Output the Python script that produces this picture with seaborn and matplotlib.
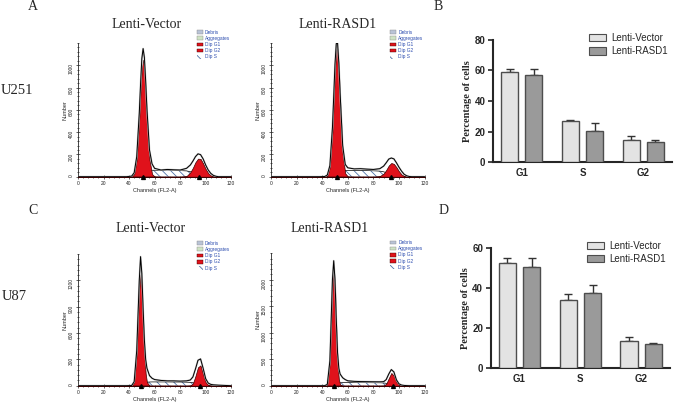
"""
Cell-cycle figure: ModFit-style DNA content histograms for U251 / U87
(Lenti-Vector vs Lenti-RASD1) and the phase-distribution bar charts.
"""

import matplotlib
matplotlib.use("Agg")  # no display in the sandbox
import matplotlib.pyplot as plt
import numpy as np
import pandas as pd
import seaborn as sns
from matplotlib.patches import Patch
from matplotlib.ticker import AutoMinorLocator

W, H = 675, 403  # output size in pixels (dpi 100)

CHANNELS = [0, 38, 42, 44, 46, 48, 49, 50, 51, 52, 53, 54, 56, 58, 60, 65, 70,
            75, 80, 85, 88, 90, 92, 94, 96, 98, 100, 102, 104, 106, 108, 110, 115, 120]

u251_vec_total = [0, 0, 5, 35, 180, 570, 830, 1060, 1150, 1070, 860, 610, 240, 115, 75, 60, 65,
                  62, 60, 75, 105, 140, 180, 205, 198, 160, 105, 60, 30, 12, 4, 0, 0, 0]
u251_vec_g1 = [0, 0, 2, 24, 154, 525, 771, 972, 1050, 972, 771, 525, 154, 24, 2, 0, 0,
               0, 0, 0, 0, 0, 0, 0, 0, 0, 0, 0, 0, 0, 0, 0, 0, 0]
u251_vec_g2 = [0, 0, 0, 0, 0, 0, 0, 0, 0, 0, 0, 0, 0, 0, 0, 0, 0,
               0, 0, 5, 40, 80, 130, 162, 160, 120, 70, 32, 12, 3, 0, 0, 0, 0]
u251_vec_s = [0, 0, 0, 5, 15, 30, 35, 40, 45, 48, 50, 52, 55, 58, 58, 58, 60,
              58, 55, 52, 45, 38, 28, 20, 12, 5, 2, 0, 0, 0, 0, 0, 0, 0]

u251_ras_total = [0, 0, 2, 15, 100, 440, 720, 1010, 1195, 1200, 1020, 750, 280, 110, 80, 70, 72,
                  68, 65, 72, 95, 125, 158, 168, 160, 125, 85, 50, 22, 8, 2, 0, 0, 0]
u251_ras_g1 = [0, 0, 0, 9, 85, 404, 680, 962, 1145, 1145, 962, 680, 202, 30, 2, 0, 0,
               0, 0, 0, 0, 0, 0, 0, 0, 0, 0, 0, 0, 0, 0, 0, 0, 0]
u251_ras_g2 = [0, 0, 0, 0, 0, 0, 0, 0, 0, 0, 0, 0, 0, 0, 0, 0, 0,
               0, 0, 5, 28, 60, 100, 123, 115, 85, 48, 20, 6, 1, 0, 0, 0, 0]
u251_ras_s = [0, 0, 0, 4, 12, 25, 30, 35, 40, 43, 46, 48, 52, 55, 55, 55, 56,
              55, 53, 50, 44, 36, 27, 18, 10, 4, 1, 0, 0, 0, 0, 0, 0, 0]

u87_vec_total = [0, 0, 2, 45, 400, 1200, 1470, 1280, 880, 520, 300, 200, 115, 85, 70, 60, 55,
                 55, 52, 55, 65, 100, 190, 290, 305, 200, 80, 30, 15, 10, 8, 6, 3, 0]
u87_vec_g1 = [0, 0, 0, 40, 365, 1105, 1270, 1105, 730, 365, 139, 40, 1, 0, 0, 0, 0,
              0, 0, 0, 0, 0, 0, 0, 0, 0, 0, 0, 0, 0, 0, 0, 0, 0]
u87_vec_g2 = [0, 0, 0, 0, 0, 0, 0, 0, 0, 0, 0, 0, 0, 0, 0, 0, 0,
              0, 0, 0, 3, 25, 110, 210, 232, 130, 40, 8, 1, 0, 0, 0, 0, 0]
u87_vec_s = [0, 0, 0, 0, 8, 20, 25, 30, 33, 36, 38, 40, 42, 43, 43, 43, 43,
             42, 42, 40, 38, 34, 26, 18, 10, 4, 1, 0, 0, 0, 0, 0, 0, 0]

u87_ras_total = [0, 0, 1, 25, 470, 2000, 2360, 2000, 1250, 620, 330, 220, 150, 115, 92, 82, 78,
                 76, 74, 73, 76, 115, 220, 305, 260, 110, 35, 12, 5, 2, 0, 0, 0, 0]
u87_ras_g1 = [0, 0, 0, 23, 435, 1880, 2260, 1880, 1085, 435, 120, 23, 0, 0, 0, 0, 0,
              0, 0, 0, 0, 0, 0, 0, 0, 0, 0, 0, 0, 0, 0, 0, 0, 0]
u87_ras_g2 = [0, 0, 0, 0, 0, 0, 0, 0, 0, 0, 0, 0, 0, 0, 0, 0, 0,
              0, 0, 0, 3, 35, 140, 240, 190, 70, 15, 2, 0, 0, 0, 0, 0, 0]
u87_ras_s = [0, 0, 0, 0, 8, 25, 32, 40, 45, 50, 53, 55, 58, 60, 60, 60, 58,
             57, 56, 55, 52, 45, 32, 20, 10, 3, 1, 0, 0, 0, 0, 0, 0, 0]

# G1 / G2 peak positions (the small triangles under the x axis)
u251_vec_peaks = [51, 95]
u251_ras_peaks = [51.5, 94]
u87_vec_peaks = [49, 95.5]
u87_ras_peaks = [49, 95]

HIST_XTICKS = [0, 20, 40, 60, 80, 100, 120]
u251_yticks = [0, 200, 400, 600, 800, 1000]
u87_vec_yticks = [0, 300, 600, 900, 1200]
u87_ras_yticks = [0, 500, 1000, 1500, 2000]
HIST_LEGEND = ["Debris", "Aggregates", "Dip G1", "Dip G2", "Dip S"]

# ---- bar chart data: percentage of cells per phase (mean, upper SD) ----
PHASES = ["G1", "S", "G2"]
GROUPS = ["Lenti-Vector", "Lenti-RASD1"]
u251_vec_mean = [58.8, 26.9, 14.4]
u251_vec_sd = [2.0, 0.4, 2.4]
u251_ras_mean = [57.3, 20.5, 12.9]
u251_ras_sd = [3.7, 5.1, 1.3]
u87_vec_mean = [52.2, 34.0, 13.6]
u87_vec_sd = [2.8, 2.8, 2.2]
u87_ras_mean = [50.5, 37.3, 11.9]
u87_ras_sd = [4.5, 4.1, 0.8]

RED = "#e0121b"
HATCH_BLUE = "#4f72a8"
BAR_COLORS = {"Lenti-Vector": "#e3e3e3", "Lenti-RASD1": "#9a9a9a"}
SERIF = ["Liberation Serif", "DejaVu Serif"]


def frame(left, top, right, bottom):
    """Pixel box -> figure-fraction rect for fig.add_axes."""
    return [left / W, 1 - bottom / H, (right - left) / W, (bottom - top) / H]


def fig_text(fig, x, y, s, **kw):
    fig.text(x / W, 1 - y / H, s, ha="center", va="center", **kw)


def draw_histogram(ax, total, g1, g2, s, peaks, ymax, yticks):
    ch = np.array(CHANNELS, dtype=float)
    ax.fill_between(ch, np.array(s), facecolor="white", edgecolor=HATCH_BLUE,
                    hatch="\\\\\\\\", linewidth=0, zorder=1)
    ax.plot(ch, s, color="black", lw=0.5, zorder=2)
    for comp in (g1, g2):
        ax.fill_between(ch, np.array(comp), facecolor=RED, edgecolor="#3a0000",
                        linewidth=0.5, zorder=3)
    sns.lineplot(x=ch, y=total, ax=ax, color="#c4c4c4", lw=1.3, zorder=4)
    sns.lineplot(x=ch, y=total, ax=ax, color="black", lw=0.7, zorder=5)
    ax.plot(peaks, [0] * len(peaks), ls="none", marker="^", ms=2.8,
            color="black", clip_on=False, zorder=6)

    ax.set_xlim(0, 120)
    ax.set_ylim(0, ymax)
    ax.set_xticks(HIST_XTICKS)
    ax.set_yticks(yticks)
    ax.xaxis.set_minor_locator(AutoMinorLocator(5))
    ax.yaxis.set_minor_locator(AutoMinorLocator(5))
    ax.tick_params(which="both", direction="inout", width=0.5, colors="#222222",
                   labelsize=3.5, pad=1.5)
    ax.tick_params(which="major", length=3.5)
    ax.tick_params(which="minor", length=2)
    ax.tick_params(axis="y", labelrotation=90)
    ax.set_xlabel("Channels (FL2-A)", fontsize=4, labelpad=1)
    ax.set_ylabel("Number", fontsize=4, labelpad=1)
    sns.despine(ax=ax)
    for side in ("left", "bottom"):
        ax.spines[side].set_linewidth(0.6)

    handles = [
        Patch(facecolor="#b9c3d6", edgecolor="#8a8a8a", linewidth=0.3),
        Patch(facecolor="#cfe3c4", edgecolor="#8a8a8a", linewidth=0.3),
        Patch(facecolor=RED, edgecolor="#3a0000", linewidth=0.3),
        Patch(facecolor=RED, edgecolor="#3a0000", linewidth=0.3),
        Patch(facecolor="white", edgecolor=HATCH_BLUE, hatch="\\\\\\\\", linewidth=0),
    ]
    ax.legend(handles, HIST_LEGEND, loc="upper left", bbox_to_anchor=(0.775, 1.10),
              frameon=False, fontsize=3.5, labelcolor="#2f4fb0", handlelength=1.3,
              handleheight=0.8, handletextpad=0.4, labelspacing=0.25,
              borderaxespad=0, borderpad=0)


def draw_bars(ax, vec_mean, vec_sd, ras_mean, ras_sd, ymax):
    df = pd.DataFrame({
        "phase": PHASES * 2,
        "group": [GROUPS[0]] * len(PHASES) + [GROUPS[1]] * len(PHASES),
        "pct":   vec_mean + ras_mean,
    })
    sns.barplot(data=df, x="phase", y="pct", hue="group", palette=BAR_COLORS,
                errorbar=None, width=0.8, gap=0.3, edgecolor="#4d4d4d",
                linewidth=1, legend=False, ax=ax, zorder=3)

    # upper-only SD bars, placed on the bars seaborn drew
    for bars, sds in zip(ax.containers, (vec_sd, ras_sd)):
        xs = [b.get_x() + b.get_width() / 2 for b in bars]
        ys = [b.get_height() for b in bars]
        ax.errorbar(xs, ys, yerr=[np.zeros(len(sds)), sds], fmt="none",
                    ecolor="#333333", elinewidth=1, capsize=3, capthick=1, zorder=2)

    ax.set_ylim(0, ymax)
    ax.set_yticks(range(0, ymax + 1, 20))
    ax.set_xlabel("")
    ax.set_ylabel("Percentage of cells", family=SERIF, fontweight="bold",
                  fontsize=7.5, labelpad=1.5)
    ax.tick_params(axis="y", length=3.5, width=1.2, labelsize=7, pad=2)
    ax.tick_params(axis="x", length=0, labelsize=7, pad=4)
    for lab in ax.get_xticklabels() + ax.get_yticklabels():
        lab.set_fontweight("bold")
    sns.despine(ax=ax)
    for side in ("left", "bottom"):
        ax.spines[side].set_linewidth(1.5)

    handles = [Patch(facecolor=BAR_COLORS[g], edgecolor="#4d4d4d", linewidth=0.8)
               for g in GROUPS]
    ax.legend(handles, GROUPS, loc="upper right", bbox_to_anchor=(1.0, 1.09),
              frameon=False, fontsize=7, handlelength=1.7, handleheight=0.8,
              handletextpad=0.6, labelspacing=0.35, borderaxespad=0)


def main():
    sns.set_style("ticks")
    plt.rcParams["font.family"] = ["Liberation Sans", "DejaVu Sans"]
    plt.rcParams["hatch.linewidth"] = 0.6

    fig = plt.figure(figsize=(W / 100, H / 100), dpi=100)

    ax_a1 = fig.add_axes(frame(78, 43, 231.2, 176.7))
    ax_a2 = fig.add_axes(frame(271, 43, 424.6, 176.7))
    ax_c1 = fig.add_axes(frame(78, 254, 231.2, 385.7))
    ax_c2 = fig.add_axes(frame(271, 253.3, 424.6, 385.7))
    ax_b = fig.add_axes(frame(493, 40, 672, 162))
    ax_d = fig.add_axes(frame(490.7, 247.7, 670, 368.3))

    draw_histogram(ax_a1, u251_vec_total, u251_vec_g1, u251_vec_g2, u251_vec_s,
                   u251_vec_peaks, 1200, u251_yticks)
    draw_histogram(ax_a2, u251_ras_total, u251_ras_g1, u251_ras_g2, u251_ras_s,
                   u251_ras_peaks, 1200, u251_yticks)
    draw_histogram(ax_c1, u87_vec_total, u87_vec_g1, u87_vec_g2, u87_vec_s,
                   u87_vec_peaks, 1500, u87_vec_yticks)
    draw_histogram(ax_c2, u87_ras_total, u87_ras_g1, u87_ras_g2, u87_ras_s,
                   u87_ras_peaks, 2500, u87_ras_yticks)

    draw_bars(ax_b, u251_vec_mean, u251_vec_sd, u251_ras_mean, u251_ras_sd, 80)
    draw_bars(ax_d, u87_vec_mean, u87_vec_sd, u87_ras_mean, u87_ras_sd, 60)

    # column titles, row labels, panel letters
    fig_text(fig, 147, 24, "Lenti-Vector", family=SERIF, fontsize=10)
    fig_text(fig, 338, 24, "Lenti-RASD1", family=SERIF, fontsize=10)
    fig_text(fig, 151, 229, "Lenti-Vector", family=SERIF, fontsize=10)
    fig_text(fig, 330, 229, "Lenti-RASD1", family=SERIF, fontsize=10)
    fig_text(fig, 17, 90, "U251", family=SERIF, fontsize=10.5)
    fig_text(fig, 14, 297, "U87", family=SERIF, fontsize=10.5)
    for x, y, letter in [(33, 7, "A"), (438, 7, "B"), (33, 210, "C"), (444, 211, "D")]:
        fig_text(fig, x, y, letter, family=SERIF, fontsize=10)

    fig.savefig("out.png", dpi=100)
    plt.close(fig)


if __name__ == "__main__":
    main()
